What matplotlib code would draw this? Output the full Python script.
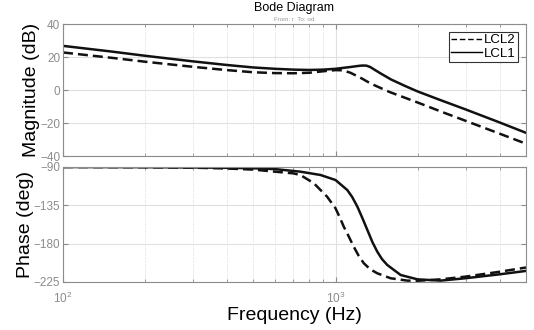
import matplotlib
matplotlib.use('Agg')
import matplotlib.pyplot as plt
from matplotlib.lines import Line2D
from matplotlib.ticker import LogLocator, FixedLocator, NullFormatter

plt.rcParams['font.family'] = ['Liberation Sans', 'DejaVu Sans']

# magnitude (dB)
f_mag1 = [100, 150, 200, 300, 400, 500, 600, 700, 800, 900, 1000, 1135, 1220, 1260, 1300,
          1340, 1380, 1450, 1600, 1800, 2000, 2430, 3000, 4000, 5000]
mag1 = [26.8, 23.4, 20.8, 17.4, 15.2, 13.7, 12.9, 12.4, 12.2, 12.4, 12.9, 14.0, 14.7, 14.9,
        14.8, 14.0, 12.7, 10.5, 6.4, 2.5, -0.8, -6.1, -11.7, -19.6, -25.9]

f_mag2 = [100, 150, 200, 300, 400, 500, 600, 700, 800, 900, 1000, 1060, 1135, 1250,
          1345, 1570, 2000, 2500, 3000, 4000, 5000]
mag2 = [22.8, 19.6, 17.2, 14.1, 12.1, 10.8, 10.3, 10.2, 10.5, 11.4, 12.1, 12.0, 10.5, 7.0,
        4.0, -1.0, -7.5, -13.7, -18.6, -26.4, -32.5]

# phase (deg)
f_ph1 = [100, 200, 300, 400, 500, 600, 743, 881, 1000, 1104, 1150, 1203, 1255, 1309,
         1365, 1423, 1480, 1548, 1734, 2000, 2430, 3000, 4000, 5000]
ph1 = [-90, -90.2, -90.5, -91, -91.5, -92.5, -95.5, -99.4, -105.3, -117, -125, -136.6,
       -150, -164, -178, -189.4, -198, -205, -216.8, -221.9, -223.4, -220.6, -216, -212]

f_ph2 = [100, 200, 300, 400, 500, 600, 700, 743, 832, 931, 1000, 1036, 1072, 1120, 1166,
         1215, 1270, 1340, 1423, 1592, 1835, 2000, 2430, 3000, 4000, 5000]
ph2 = [-90, -90.3, -90.8, -91.8, -93.1, -95.5, -97.5, -99.4, -109, -124.8, -138.5, -149,
       -160, -172, -183.5, -194, -203, -210, -214.8, -220.6, -223.4, -223.6, -221.9,
       -218.7, -213, -208]

labels = ['LCL2', 'LCL1']
mag_ticks = [-40, -20, 0, 20, 40]
ph_ticks = [-225, -180, -135, -90]

gray = '#8c8c8c'
lw = 1.8

fig = plt.figure(figsize=(5.34, 3.30), dpi=100)
ax1 = fig.add_axes([0.118, 0.527, 0.867, 0.400])
ax2 = fig.add_axes([0.118, 0.1455, 0.867, 0.3485])

ax1.plot(f_mag2, mag2, color='#111111', lw=lw, dashes=(4, 2))
ax1.plot(f_mag1, mag1, color='#111111', lw=lw)
ax2.plot(f_ph2, ph2, color='#111111', lw=lw, dashes=(4, 2))
ax2.plot(f_ph1, ph1, color='#111111', lw=lw)

for ax in (ax1, ax2):
    ax.set_xscale('log')
    ax.set_xlim(100, 5000)
    ax.xaxis.set_major_locator(LogLocator(base=10))
    ax.xaxis.set_minor_locator(LogLocator(base=10, subs=range(2, 10)))
    ax.xaxis.set_minor_formatter(NullFormatter())
    ax.grid(True, which='major', color='#e0e0e0', lw=0.8, ls='-')
    ax.grid(True, which='minor', axis='x', color='#cfcfcf', lw=0.6, ls=':')
    ax.set_axisbelow(True)
    ax.tick_params(which='both', direction='in', top=True, right=True, colors=gray,
                   labelsize=8.5, pad=2)
    ax.tick_params(which='major', length=3.5)
    ax.tick_params(which='minor', length=2)
    for s in ax.spines.values():
        s.set_color(gray)
        s.set_linewidth(0.8)

ax1.set_ylim(-40, 40)
ax1.yaxis.set_major_locator(FixedLocator(mag_ticks))
ax1.xaxis.set_major_formatter(NullFormatter())
ax2.set_ylim(-225, -90)
ax2.yaxis.set_major_locator(FixedLocator(ph_ticks))
ax2.tick_params(axis='x', which='major', pad=6)

ax1.set_ylabel('Magnitude (dB)', fontsize=14, labelpad=0)
ax2.set_ylabel('Phase (deg)', fontsize=14, labelpad=0)
ax2.set_xlabel('Frequency (Hz)', fontsize=14, labelpad=1)
fig.align_ylabels([ax1, ax2])

fig.text(0.551, 0.975, 'Bode Diagram', ha='center', va='center', fontsize=9)
fig.text(0.551, 0.942, 'From: r  To: od', ha='center', va='center', fontsize=4.5,
         color='#999999')

handles = [Line2D([], [], color='black', lw=1, dashes=(4, 2)),
           Line2D([], [], color='black', lw=1)]
leg = ax1.legend(handles, labels, loc='upper right', fontsize=9.5, handlelength=2.3,
                 handletextpad=0.2, borderpad=0.15, labelspacing=0.1,
                 borderaxespad=0.6, fancybox=False, framealpha=1)
leg.get_frame().set_edgecolor('#333333')
leg.get_frame().set_linewidth(0.8)

fig.savefig('out.png', dpi=100)
